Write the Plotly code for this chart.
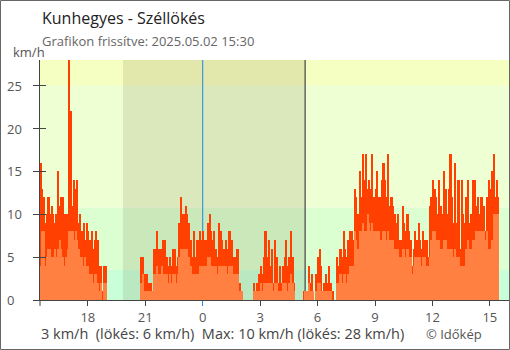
import pandas as pd
import plotly.graph_objects as go

# ---------------- data ----------------
start_time = "2025-05-01 15:30"
times = pd.date_range(start_time, periods=288, freq="5min")

gust = [
    16, 13, 12, 9, 10, 12, 10, 11, 10, 9,
    10, 15, 11, 12, 12, 10, 10, 10, 28, 22,
    11, 14, 13, 14, 9, 10, 8, 9, 7, 9,
    8, 7, 8, 6, 7, 8, 7, 4, 4, 1,
    4, 4, 0, 0, 0, 0, 0, 0, 0, 0,
    0, 0, 0, 0, 0, 0, 0, 0, 0, 0,
    0, 0, 0, 5, 5, 3, 3, 3, 2, 2,
    1, 6, 6, 8, 6, 6, 6, 7, 7, 5,
    4, 5, 4, 6, 6, 4, 5, 9, 12, 10,
    10, 11, 10, 9, 7, 5, 8, 5, 7, 7,
    8, 7, 8, 7, 7, 9, 10, 8, 7, 8,
    6, 5, 9, 8, 7, 6, 7, 6, 8, 8,
    7, 5, 5, 6, 6, 2, 1, 0, 0, 0,
    0, 0, 0, 0, 2, 1, 2, 3, 4, 3,
    5, 8, 5, 7, 4, 6, 2, 7, 5, 2,
    4, 2, 4, 5, 7, 4, 5, 8, 5, 2,
    0, 0, 0, 0, 0, 1, 1, 1, 4, 2,
    3, 1, 0, 3, 5, 6, 4, 1, 2, 3,
    2, 4, 2, 1, 0, 0, 5, 4, 6, 5,
    8, 6, 5, 7, 8, 8, 7, 13, 12, 10,
    15, 12, 17, 14, 17, 13, 14, 13, 17, 12,
    13, 15, 12, 12, 14, 16, 14, 12, 17, 11,
    12, 11, 10, 9, 10, 7, 7, 11, 9, 8,
    10, 8, 7, 4, 6, 8, 7, 9, 7, 6,
    8, 7, 7, 5, 11, 12, 14, 13, 12, 10,
    14, 11, 10, 15, 13, 10, 13, 17, 12, 9,
    16, 9, 14, 6, 14, 10, 9, 12, 14, 9,
    10, 14, 14, 11, 12, 10, 12, 12, 11, 8,
    12, 14, 13, 15, 17, 12, 14, 12,
]

avg = [
    4, 8, 8, 4, 5, 6, 6, 5, 5, 6,
    5, 6, 7, 6, 5, 4, 5, 6, 8, 8,
    8, 7, 8, 7, 6, 5, 5, 4, 5, 4,
    4, 3, 3, 2, 3, 3, 2, 1, 2, 0,
    2, 2, 0, 0, 0, 0, 0, 0, 0, 0,
    0, 0, 0, 0, 0, 0, 0, 0, 0, 0,
    0, 0, 0, 2, 3, 1, 1, 1, 1, 1,
    1, 3, 3, 4, 3, 3, 4, 3, 3, 3,
    2, 3, 2, 3, 3, 2, 3, 5, 6, 6,
    6, 6, 6, 5, 4, 3, 3, 3, 3, 3,
    4, 4, 4, 4, 4, 5, 5, 4, 4, 4,
    4, 3, 4, 4, 4, 4, 4, 3, 4, 4,
    4, 3, 3, 3, 3, 1, 1, 0, 0, 0,
    0, 0, 0, 0, 1, 1, 1, 1, 2, 1,
    2, 2, 2, 2, 2, 2, 1, 2, 2, 1,
    1, 1, 2, 2, 2, 1, 2, 3, 2, 1,
    0, 0, 0, 0, 0, 0, 1, 1, 2, 1,
    1, 1, 0, 1, 2, 2, 1, 1, 1, 1,
    1, 1, 1, 0, 0, 0, 2, 2, 3, 2,
    3, 3, 2, 3, 4, 4, 4, 8, 7, 6,
    8, 8, 9, 8, 8, 10, 9, 8, 9, 8,
    8, 8, 8, 7, 7, 8, 8, 7, 8, 7,
    7, 7, 6, 6, 6, 5, 5, 6, 6, 5,
    6, 5, 5, 3, 4, 5, 5, 5, 5, 4,
    5, 5, 4, 4, 5, 7, 8, 8, 7, 7,
    7, 6, 6, 7, 7, 6, 6, 6, 6, 5,
    6, 5, 5, 4, 4, 4, 4, 6, 7, 6,
    6, 7, 7, 8, 8, 8, 8, 8, 8, 7,
    8, 6, 6, 7, 10, 10, 10, 10,
]

x_tick_vals = ["2025-05-01 18:00", "2025-05-01 21:00", "2025-05-02 00:00",
               "2025-05-02 03:00", "2025-05-02 06:00", "2025-05-02 09:00",
               "2025-05-02 12:00", "2025-05-02 15:00"]
x_tick_text = ["18", "21", "0", "3", "6", "9", "12", "15"]
y_tick_vals = [0, 5, 10, 15, 20, 25]

band_edges = [0, 3.5, 10.8, 25, 28]
band_colors = ["#c8ffd8", "#dcffd2", "#eeffd4", "#f5ffc2"]

x_range = ["2025-05-01 15:30", "2025-05-02 16:00"]
sunset = "2025-05-01 19:50"
sunrise = "2025-05-02 05:21"
midnight = "2025-05-02 00:00"

title_text = "Kunhegyes - Széllökés"
subtitle_text = "Grafikon frissítve: 2025.05.02 15:30"
summary_text = "3 km/h \u00a0(lökés: 6 km/h) \u00a0Max: 10 km/h (lökés: 28 km/h)"
credit_text = "© Időkép"

# ---------------- figure ----------------
W, H = 510, 350
ML, MR, MT, MB = 40, 1, 60, 50
PW, PH = W - ML - MR, H - MT - MB

def px_x(px):
    return (px - ML) / PW

def px_y(py):
    return (H - MB - py) / PH

FONT = "Open Sans"

fig = go.Figure()
fig.add_trace(go.Bar(x=times, y=gust, width=300000, offset=0,
                     marker=dict(color="#ff4000", line=dict(width=0)),
                     hoverinfo="skip"))
fig.add_trace(go.Bar(x=times, y=avg, width=300000, offset=0,
                     marker=dict(color="#ff8040", line=dict(width=0)),
                     hoverinfo="skip"))
# helper traces so the overlay axes (tick decorations) are drawn
fig.add_trace(go.Scatter(x=[x_range[0]], y=[0], xaxis="x2", yaxis="y",
                         mode="markers", marker=dict(opacity=0), hoverinfo="skip"))
fig.add_trace(go.Scatter(x=[x_range[0]], y=[0], xaxis="x", yaxis="y2",
                         mode="markers", marker=dict(opacity=0), hoverinfo="skip"))

shapes = []
for i, c in enumerate(band_colors):
    shapes.append(dict(type="rect", xref="paper", yref="y", x0=0, x1=1,
                       y0=band_edges[i], y1=band_edges[i + 1],
                       fillcolor=c, line=dict(width=0), layer="below"))
shapes.append(dict(type="rect", xref="x", yref="paper", x0=sunset, x1=sunrise,
                   y0=0, y1=1, fillcolor="rgba(70,50,0,0.11)",
                   line=dict(width=0), layer="below"))
shapes.append(dict(type="line", xref="x", yref="paper", x0=midnight, x1=midnight,
                   y0=0, y1=1, line=dict(color="#1e88e5", width=1), layer="below"))
shapes.append(dict(type="line", xref="x", yref="paper", x0=sunrise, x1=sunrise,
                   y0=0, y1=1, line=dict(color="#444444", width=1.2), layer="below"))
# y axis line extension below x axis
shapes.append(dict(type="line", xref="paper", yref="paper", x0=0, x1=0,
                   y0=-6 / PH, y1=0, line=dict(color="#444444", width=1)))
# outer image border
shapes.append(dict(type="rect", xref="paper", yref="paper",
                   x0=px_x(0.5), x1=px_x(W - 0.5), y0=px_y(H - 0.5), y1=px_y(0.5),
                   line=dict(color="#666666", width=1), fillcolor="rgba(0,0,0,0)"))

annotations = [
    dict(text=title_text, xref="paper", yref="paper", x=0, y=px_y(18),
         xanchor="left", yanchor="middle", showarrow=False,
         font=dict(family=FONT, size=16, color="#222222")),
    dict(text=subtitle_text, xref="paper", yref="paper", x=0, y=px_y(41),
         xanchor="left", yanchor="middle", showarrow=False,
         font=dict(family=FONT, size=13, color="#666666")),
    dict(text="km/h", xref="paper", yref="paper", x=px_x(11), y=px_y(52),
         xanchor="left", yanchor="middle", showarrow=False,
         font=dict(family=FONT, size=13, color="#555555")),
    dict(text=summary_text, xref="paper", yref="paper", x=px_x(39), y=px_y(333),
         xanchor="left", yanchor="middle", showarrow=False,
         font=dict(family=FONT, size=14.5, color="#444444")),
    dict(text=credit_text, xref="paper", yref="paper", x=px_x(424), y=px_y(333.5),
         xanchor="left", yanchor="middle", showarrow=False,
         font=dict(family=FONT, size=13, color="#555555")),
]
for v in y_tick_vals:
    annotations.append(dict(text=str(v), xref="paper", yref="y", x=px_x(5), y=v,
                            xanchor="left", yanchor="middle", showarrow=False,
                            font=dict(family=FONT, size=13, color="#555555")))

fig.update_layout(
    width=W, height=H,
    margin=dict(l=ML, r=MR, t=MT, b=MB, pad=0),
    paper_bgcolor="white", plot_bgcolor="white",
    barmode="overlay", bargap=0, showlegend=False,
    font=dict(family=FONT, size=13, color="#555555"),
    xaxis=dict(type="date", range=x_range, tickvals=x_tick_vals, ticktext=x_tick_text,
               ticks="outside", ticklen=5, tickwidth=1, tickcolor="#444444",
               ticklabelstandoff=0,
               showline=True, linecolor="#444444", linewidth=1,
               showgrid=False, zeroline=False,
               tickfont=dict(family=FONT, size=13, color="#555555")),
    xaxis2=dict(type="date", range=x_range, overlaying="x", anchor="y",
                tickvals=[midnight], ticks="outside", ticklen=5, tickwidth=1,
                tickcolor="#1e88e5", showticklabels=False, showline=False,
                showgrid=False, zeroline=False),
    yaxis=dict(range=[0, 28], tickvals=y_tick_vals, showticklabels=False,
               ticks="outside", ticklen=6, tickwidth=1, tickcolor="#444444",
               showline=True, linecolor="#444444", linewidth=1,
               showgrid=False, zeroline=False),
    yaxis2=dict(range=[0, 28], overlaying="y", anchor="x", side="left",
                tickvals=y_tick_vals, showticklabels=False,
                ticks="inside", ticklen=6, tickwidth=1, tickcolor="#444444",
                showline=False, showgrid=False, zeroline=False),
    shapes=shapes,
    annotations=annotations,
)

fig.write_html("out.html")
